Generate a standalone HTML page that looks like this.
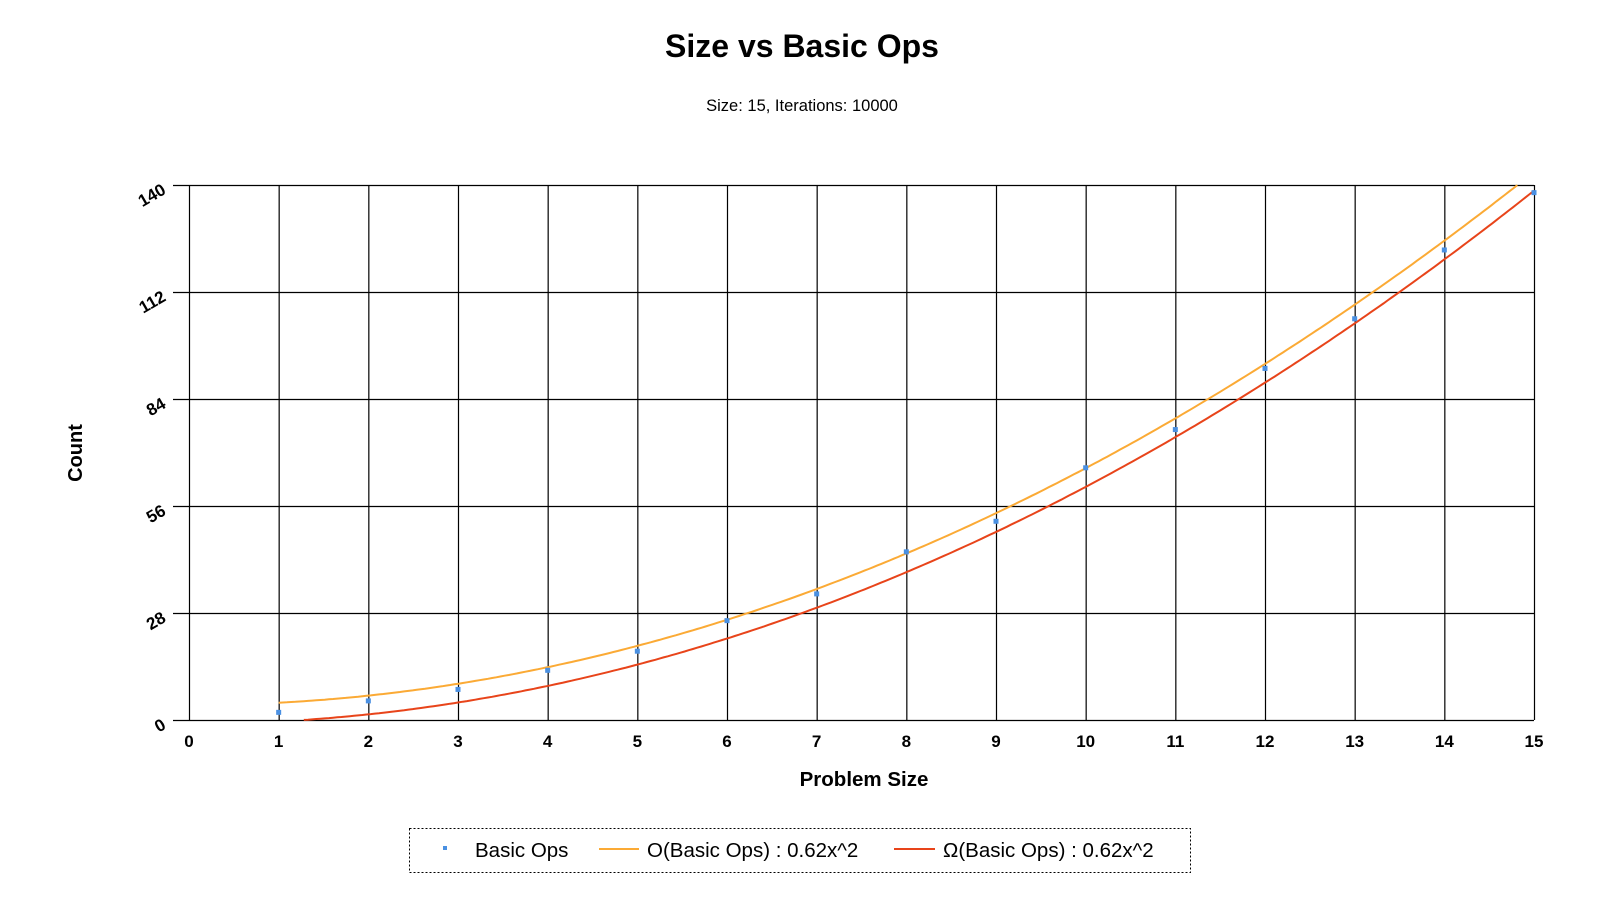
<!DOCTYPE html>
<html><head><meta charset="utf-8"><style>
body{margin:0;background:#fff;}
svg{display:block;font-family:"Liberation Sans",Arial,sans-serif;}
</style></head><body>
<svg id="chart" width="1600" height="900" viewBox="0 0 1600 900">
<text x="802" y="57" text-anchor="middle" font-size="32" font-weight="bold">Size vs Basic Ops</text>
<text x="802" y="111" text-anchor="middle" font-size="16.5">Size: 15, Iterations: 10000</text>
<g id="grid"></g>
<g id="series"></g>
<text x="0" y="0" transform="translate(82,453) rotate(-90)" text-anchor="middle" font-size="20" font-weight="bold">Count</text>
<text x="864" y="786" text-anchor="middle" font-size="20.5" font-weight="bold">Problem Size</text>
<g>
<rect x="409.5" y="828.5" width="781" height="44" fill="none" stroke="#000" stroke-dasharray="2,2"/>
<rect x="443" y="846" width="4" height="4" fill="#4a90e2"/>
<text x="475" y="857" font-size="20.5">Basic Ops</text>
<line x1="599" y1="849" x2="639" y2="849" stroke="#fbaa35" stroke-width="2"/>
<text x="647" y="857" font-size="20.5">O(Basic Ops) : 0.62x^2</text>
<line x1="894" y1="849" x2="935" y2="849" stroke="#e8441a" stroke-width="2"/>
<text x="943" y="857" font-size="20.5">Ω(Basic Ops) : 0.62x^2</text>
</g>
</svg>
<script>
const xTicks=[0,1,2,3,4,5,6,7,8,9,10,11,12,13,14,15];
const yTicks=[0,28,56,84,112,140];
const sizes=[1,2,3,4,5,6,7,8,9,10,11,12,13,14,15];
const basicOps=[2,5,8,13,18,26,33,44,52,66,76,92,105,123,138];
const upperCoef=[0.62,0,3.9];
const lowerCoef=[0.62,0,-1.0];
const X0=189,X1=1534,Y0=720,Y1=185;
const sx=v=>X0+(v-0)/(15-0)*(X1-X0);
const sy=v=>Y0-(v-0)/(140-0)*(Y0-Y1);
const NS="http://www.w3.org/2000/svg";
const grid=document.getElementById('grid'),ser=document.getElementById('series');
function mk(tag,attrs,parent){const e=document.createElementNS(NS,tag);for(const k in attrs)e.setAttribute(k,attrs[k]);parent.appendChild(e);return e;}
yTicks.forEach(t=>{
 const l=mk('line',{x1:X0-16,x2:X1,y1:sy(t)+0.5,y2:sy(t)+0.5,stroke:'#000','stroke-width':1.2},grid);
 
 
 const tx=mk('text',{x:0,y:0,transform:`translate(${X0-22},${sy(t)+8}) rotate(-30)`,'text-anchor':'end','font-size':17,'font-weight':'bold'},grid);
 tx.textContent=t;
 
 
});
xTicks.forEach(t=>{
 const l=mk('line',{x1:sx(t)+0.5,x2:sx(t)+0.5,y1:Y1,y2:Y0,stroke:'#000','stroke-width':1.2},grid);
 
 
 const tx=mk('text',{x:sx(t),y:Y0+27,'text-anchor':'middle','font-size':17,'font-weight':'bold'},grid);
 tx.textContent=t;
 
 
});
function curve(c,color,name){
 let pts=[];
 const xs=sizes[0],xe=sizes[sizes.length-1];
 for(let i=0;i<=300;i++){const x=xs+(xe-xs)*i/300;let y=c[0]*x*x+c[1]*x+c[2];if(y<0||y>140)continue;pts.push(sx(x).toFixed(1)+','+sy(y).toFixed(1));}
 const p=mk('polyline',{points:pts.join(' '),fill:'none',stroke:color,'stroke-width':2},ser);
 
 
}
curve(upperCoef,'#fbaa35','upper-bound-curve');
curve(lowerCoef,'#e8441a','lower-bound-curve');
sizes.forEach((s,i)=>{
 const r=mk('rect',{x:sx(s)-2.5,y:sy(basicOps[i])-2.5,width:5,height:5,fill:'#4a90e2'},ser);
 
 
});
</script>
</body></html>
